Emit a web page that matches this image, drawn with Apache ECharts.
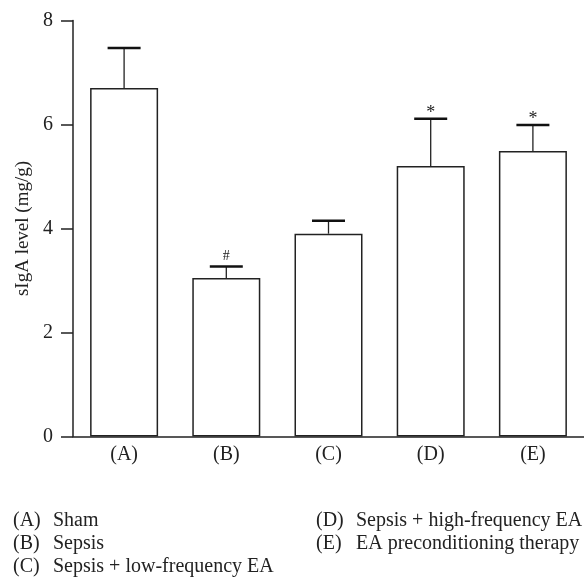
<!DOCTYPE html>
<html>
<head>
<meta charset="utf-8">
<script src="https://cdn.jsdelivr.net/npm/echarts@6/dist/echarts.min.js"></script>
<style>
  html, body { margin: 0; padding: 0; background: #fff; }
  #chart { width: 584px; height: 581px; }
</style>
</head>
<body>
<div id="chart"></div>
<script>
//分组
var categories = ['(A)', '(B)', '(C)', '(D)', '(E)'];
//均值
var means = [6.70, 3.05, 3.90, 5.20, 5.49];
//误差线上端
var errTop = [7.47, 3.27, 4.15, 6.11, 5.99];
//显著性标记
var marks = ['', '#', '', '*', '*'];
//y轴刻度
var yTicks = [0, 2, 4, 6, 8];
//图例
var legendKeys = ['(A)', '(B)', '(C)', '(D)', '(E)'];
var legendNames = ['Sham', 'Sepsis', 'Sepsis + low-frequency EA', 'Sepsis + high-frequency EA', 'EA preconditioning therapy'];

var serif = '"Liberation Serif", "DejaVu Serif", serif';
var ink = '#222';

var chart = echarts.init(document.getElementById('chart'));

//误差线数据 [x, 上端, 均值]
var errData = categories.map(function (c, i) {
    return [i, errTop[i], means[i]];
});

//图例文字，两列
var legendGraphics = [];
legendKeys.forEach(function (k, i) {
    var col = i < 3 ? 0 : 1;
    var row = i < 3 ? i : i - 3;
    var x0 = col === 0 ? 13 : 316;
    var y0 = 522 + row * 23;
    legendGraphics.push({
        type: 'text', left: x0, top: y0 - 11,
        style: { text: k, font: '20px ' + serif, fill: ink }
    });
    legendGraphics.push({
        type: 'text', left: x0 + 40, top: y0 - 11,
        style: { text: legendNames[i], font: '20px ' + serif, fill: ink }
    });
});

var option = {
    animation: false,
    backgroundColor: '#fff',
    grid: { left: 73, right: 0, top: 20.5, bottom: 144.5, containLabel: false },
    xAxis: {
        type: 'category',
        data: categories,
        axisLine: { show: true, lineStyle: { color: ink, width: 1.5 } },
        axisTick: { show: false },
        axisLabel: { margin: 8, fontFamily: serif, fontSize: 20, color: ink }
    },
    yAxis: {
        type: 'value',
        min: yTicks[0],
        max: yTicks[yTicks.length - 1],
        interval: 2,
        name: 'sIgA level (mg/g)',
        nameLocation: 'middle',
        nameGap: 32,
        nameTextStyle: { fontFamily: serif, fontSize: 19, color: ink },
        axisLine: { show: true, lineStyle: { color: ink, width: 1.5 } },
        axisTick: { show: true, length: 12, lineStyle: { color: ink, width: 1.5 } },
        axisLabel: { margin: 20, fontFamily: serif, fontSize: 20, color: ink },
        splitLine: { show: false }
    },
    series: [{
        type: 'bar',
        data: means,
        barWidth: 68,
        itemStyle: { color: '#fff', borderColor: ink, borderWidth: 1.5 },
        z: 2
    }, {
        type: 'custom',
        data: errData,
        encode: { x: 0, y: [1, 2] },
        z: 3,
        renderItem: function (params, api) {
            var i = api.value(0);
            var top = api.coord([i, api.value(1)]);
            var bot = api.coord([i, api.value(2)]);
            var half = 16.5;
            var children = [{
                type: 'line',
                shape: { x1: top[0], y1: top[1], x2: bot[0], y2: bot[1] },
                style: { stroke: ink, lineWidth: 1.3 }
            }, {
                type: 'line',
                shape: { x1: top[0] - half, y1: top[1], x2: top[0] + half, y2: top[1] },
                style: { stroke: '#111', lineWidth: 2.4 }
            }];
            var m = marks[params.dataIndex];
            if (m) {
                children.push({
                    type: 'text',
                    x: top[0],
                    y: top[1] - (m === '*' ? -3 : 3),
                    style: {
                        text: m, align: 'center', verticalAlign: 'bottom',
                        font: (m === '*' ? '18px ' : '14px ') + serif, fill: ink
                    }
                });
            }
            return { type: 'group', children: children };
        }
    }],
    graphic: legendGraphics
};

chart.setOption(option);
</script>
</body>
</html>
